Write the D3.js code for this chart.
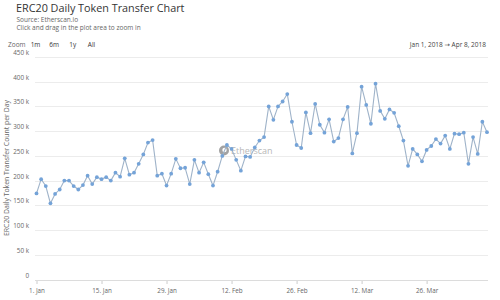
<!DOCTYPE html>
<html>
<head>
<meta charset="utf-8">
<title>ERC20 Daily Token Transfer Chart</title>
<script src="https://d3js.org/d3.v7.min.js"></script>
<style>
  body { margin: 0; background: #fff; }
  text { font-family: "Open Sans", "DejaVu Sans", sans-serif; }
</style>
</head>
<body>
<div id="chart"></div>
<script>
// data: one value per day, Jan 1 - Apr 8 2018 (thousands)
var startDay = "2018-01-01";
var endDay = "2018-04-08";
var transfers = [
  174, 203, 189, 154, 173, 182, 200, 200, 189, 182,
  191, 210, 193, 207, 203, 207, 200, 216, 208, 245,
  212, 216, 234, 253, 277, 282, 210, 214, 190, 214,
  244, 225, 226, 193, 242, 216, 237, 213, 190, 218,
  250, 272, 264, 242, 220, 249, 248, 267, 281, 288,
  350, 323, 350, 360, 375, 319, 272, 266, 338, 296,
  355, 313, 297, 324, 279, 286, 324, 349, 255, 296,
  390, 353, 315, 396, 341, 325, 344, 337, 310, 281,
  230, 264, 253, 239, 262, 270, 284, 275, 291, 264,
  295, 294, 297, 234, 288, 254, 319, 298
];
var tickDays = ["2018-01-01", "2018-01-15", "2018-01-29", "2018-02-12", "2018-02-26", "2018-03-12", "2018-03-26"];
var tickLabels = ["1. Jan", "15. Jan", "29. Jan", "12. Feb", "26. Feb", "12. Mar", "26. Mar"];
var yTicks = [0, 50, 100, 150, 200, 250, 300, 350, 400, 450];
var zoomButtons = ["1m", "6m", "1y", "All"];

var W = 500, H = 300;
var svg = d3.select("#chart").append("svg")
    .attr("width", W).attr("height", H);

var parse = d3.utcParse("%Y-%m-%d");
var t0 = parse(startDay);
var data = transfers.map(function(v, i) {
  return { date: d3.utcDay.offset(t0, i), value: v * 1000 };
});

var x = d3.scaleUtc()
    .domain([t0, parse(endDay)])
    .range([36.5, 487]);
var y = d3.scaleLinear()
    .domain([0, 450000])
    .range([279.5, 57]);

// titles
svg.append("text").attr("x", 16).attr("y", 11.5)
    .attr("font-size", 10.8).attr("fill", "#333")
    .text("ERC20 Daily Token Transfer Chart");
svg.append("text").attr("x", 16.5).attr("y", 21.5)
    .attr("font-size", 6.5).attr("fill", "#666")
    .text("Source: Etherscan.io");
svg.append("text").attr("x", 16.5).attr("y", 30)
    .attr("font-size", 6.5).attr("fill", "#666")
    .text("Click and drag in the plot area to zoom in");

// range selector
svg.append("text").attr("x", 8).attr("y", 46.5)
    .attr("font-size", 6.5).attr("fill", "#666").text("Zoom");
var bx = d3.scalePoint().domain(zoomButtons).range([35.5, 91.5]);
svg.selectAll(".btn").data(zoomButtons).enter().append("text")
    .attr("class", "btn")
    .attr("x", function(d) { return bx(d); })
    .attr("y", 46.5)
    .attr("text-anchor", "middle")
    .attr("font-size", 6.5).attr("fill", "#333")
    .text(function(d) { return d; });
svg.append("text").attr("x", 486).attr("y", 46.5)
    .attr("text-anchor", "end")
    .attr("font-size", 6.5).attr("fill", "#444")
    .text("Jan 1, 2018  \u2192  Apr 8, 2018");

// grid + y labels
var gy = svg.append("g");
gy.selectAll("line").data(yTicks).enter().append("line")
    .attr("x1", 35).attr("x2", 488)
    .attr("y1", function(d) { return Math.round(y(d * 1000)) + 0.5; })
    .attr("y2", function(d) { return Math.round(y(d * 1000)) + 0.5; })
    .attr("stroke", function(d) { return d === 0 ? "#dcdcdc" : "#ececec"; })
    .attr("stroke-width", 1);
gy.selectAll("text").data(yTicks).enter().append("text")
    .attr("x", 29)
    .attr("y", function(d) { return y(d * 1000) - 2; })
    .attr("text-anchor", "end")
    .attr("font-size", 6.3).attr("fill", "#666")
    .text(function(d) { return d === 0 ? "0" : d + " k"; });

svg.append("text")
    .attr("transform", "translate(9,168) rotate(-90)")
    .attr("text-anchor", "middle")
    .attr("font-size", 6.9).attr("fill", "#666")
    .text("ERC20 Daily Token Transfer Count per Day");

// x axis
var xAxis = d3.axisBottom(x)
    .tickValues(tickDays.map(parse))
    .tickSize(3)
    .tickFormat(function(d, i) { return tickLabels[i]; });
var gx = svg.append("g").attr("transform", "translate(0,281)").call(xAxis);
gx.select(".domain").remove();
gx.selectAll(".tick line").attr("stroke", "#ccc");
gx.selectAll(".tick text")
    .attr("font-family", "Open Sans, sans-serif")
    .attr("font-size", 6.3).attr("fill", "#666").attr("dy", "0.9em");

// watermark
var wm = svg.append("g").attr("opacity", 0.6);
wm.append("circle").attr("cx", 224).attr("cy", 150.5).attr("r", 5)
    .attr("fill", "#666");
wm.append("circle").attr("cx", 224.5).attr("cy", 150).attr("r", 2.2)
    .attr("fill", "#fff");
wm.append("text").attr("x", 231).attr("y", 154)
    .attr("font-size", 9).attr("fill", "#888").text("Etherscan");

// series
var line = d3.line()
    .x(function(d) { return x(d.date); })
    .y(function(d) { return y(d.value); });
svg.append("path").datum(data)
    .attr("d", line)
    .attr("fill", "none")
    .attr("stroke", "#9fb3c9")
    .attr("stroke-width", 1.1);
svg.selectAll(".pt").data(data).enter().append("circle")
    .attr("class", "pt")
    .attr("cx", function(d) { return x(d.date); })
    .attr("cy", function(d) { return y(d.value); })
    .attr("r", 1.9)
    .attr("fill", "#74a3d8");
</script>
</body>
</html>
